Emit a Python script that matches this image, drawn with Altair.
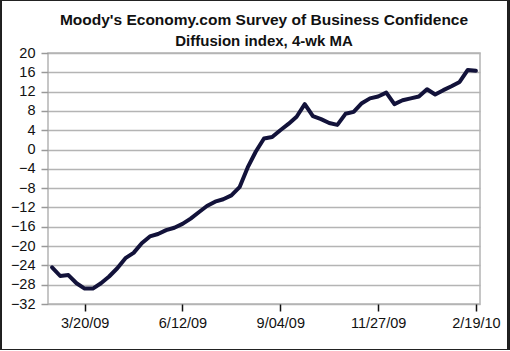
import altair as alt
import pandas as pd

values = [-24.4, -26.2, -26.0, -27.7, -28.8, -28.8, -27.7, -26.3, -24.6, -22.5,
          -21.4, -19.4, -18.0, -17.5, -16.7, -16.2, -15.4, -14.3, -13.0, -11.7,
          -10.8, -10.3, -9.5, -7.8, -3.7, -0.4, 2.3, 2.6, 4.0, 5.3,
          6.8, 9.4, 6.9, 6.3, 5.5, 5.1, 7.4, 7.8, 9.6, 10.6,
          11.0, 11.8, 9.4, 10.2, 10.6, 11.0, 12.5, 11.4, 12.3, 13.1,
          14.0, 16.5, 16.3]
dates = pd.date_range("2009-02-20", periods=len(values), freq="7D").strftime("%Y-%m-%d").tolist()
tick_dates = [(2009, 3, 20), (2009, 6, 12), (2009, 9, 4), (2009, 11, 27), (2010, 2, 19)]
y_ticks = list(range(-32, 21, 4))

df = pd.DataFrame({"date": dates, "value": values})
FONT = "Liberation Sans"

x_enc = alt.X(
    "date:T",
    scale=alt.Scale(type="utc",
                    domain=[alt.DateTime(year=2009, month=2, date=16, hours=12, utc=True),
                            alt.DateTime(year=2010, month=2, date=22, hours=12, utc=True)]),
    axis=alt.Axis(title=None, grid=False, domain=False,
                  values=[alt.DateTime(year=y, month=m, date=d, utc=True) for y, m, d in tick_dates],
                  format="%-m/%d/%y", labelFont=FONT, labelFontSize=14.5, labelColor="#111111",
                  tickColor="#111111", tickSize=7, tickWidth=1.5, labelPadding=5, labelFlush=False),
)
y_enc = alt.Y(
    "value:Q",
    scale=alt.Scale(domain=[-32, 20], nice=False, zero=False),
    axis=alt.Axis(title=None, values=y_ticks, grid=True, gridColor="#b4b4b4", gridWidth=1.5,
                  domain=False, tickColor="#999999", tickSize=7, tickWidth=1.5,
                  labelFont=FONT, labelFontSize=14.5, labelColor="#111111", labelPadding=6),
)

line = alt.Chart(df).mark_line(color="#12123a", strokeWidth=4, strokeJoin="round", strokeCap="round").encode(
    x=x_enc, y=y_enc
)

frame = alt.Chart(df).mark_rect(fill=None, stroke="#222222", strokeWidth=1.2).encode(
    x=alt.value(-47.5), x2=alt.value(460.5), y=alt.value(-52.5), y2=alt.value(296.5)
)

chart = alt.layer(line, frame).properties(
    width=432, height=251,
    padding={"left": 48, "top": 53, "right": 30, "bottom": 47},
    autosize=alt.AutoSizeParams(type="none"),
    background="white",
    title=alt.TitleParams(
        text="Moody's Economy.com Survey of Business Confidence",
        subtitle="Diffusion index, 4-wk MA",
        font=FONT, subtitleFont=FONT, fontSize=15.5, subtitleFontSize=15,
        fontWeight="bold", subtitleFontWeight="bold", color="#111111", subtitleColor="#111111",
        anchor="middle", offset=-49, subtitlePadding=5,
    ),
).configure_view(stroke="#b4b4b4", strokeWidth=1.5)

chart.save("out.html", embed_options={"renderer": "svg", "actions": False})
